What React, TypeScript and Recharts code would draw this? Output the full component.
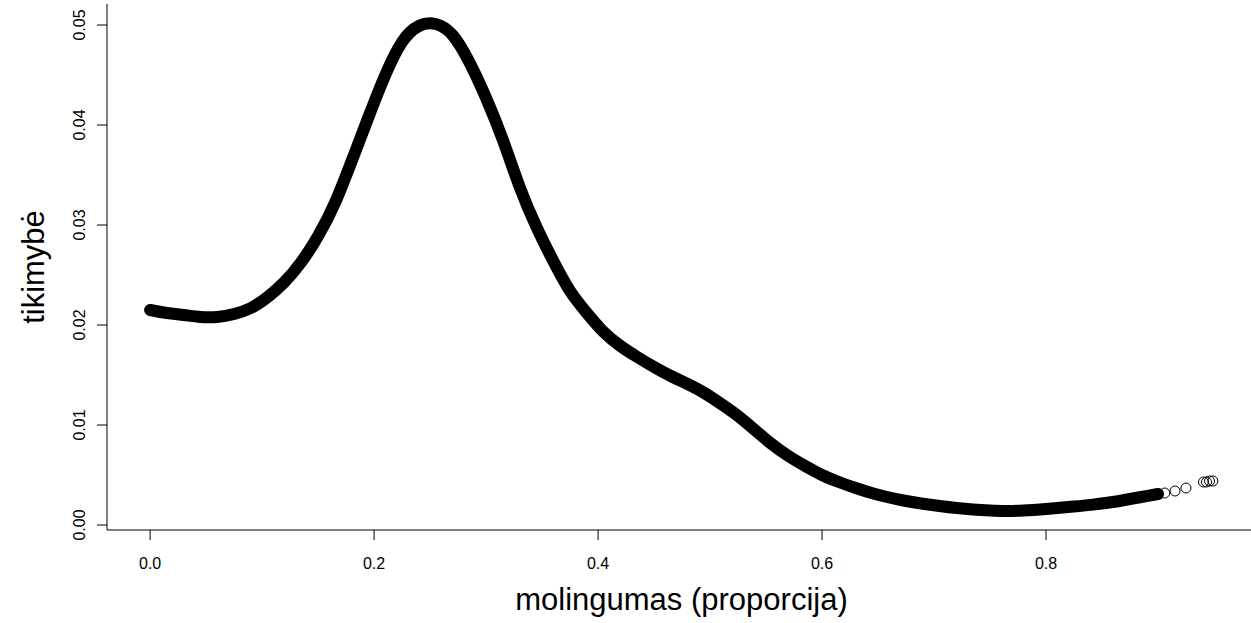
import React from "react";
import { ComposedChart, Line, Scatter, XAxis, YAxis } from "recharts";

// Kernel density of clay proportion: dense observations along the curve
const bandX = [
  0.0, 0.015, 0.03, 0.045, 0.06, 0.075, 0.09, 0.105, 0.12, 0.135, 0.15, 0.165,
  0.18, 0.195, 0.21, 0.225, 0.24, 0.255, 0.27, 0.285, 0.3, 0.315, 0.33, 0.345,
  0.36, 0.375, 0.39, 0.405, 0.42, 0.435, 0.45, 0.465, 0.48, 0.495, 0.51, 0.525,
  0.54, 0.555, 0.57, 0.585, 0.6, 0.615, 0.63, 0.645, 0.66, 0.675, 0.69, 0.705,
  0.72, 0.735, 0.75, 0.765, 0.78, 0.795, 0.81, 0.825, 0.84, 0.855, 0.87, 0.885,
  0.9,
];
const bandY = [
  0.0215, 0.0212, 0.021, 0.0208, 0.0208, 0.0211, 0.0217, 0.0228, 0.0243, 0.0263,
  0.0289, 0.0322, 0.0364, 0.0408, 0.045, 0.0483, 0.0499, 0.0501, 0.049, 0.0463,
  0.0427, 0.0385, 0.0338, 0.0298, 0.0264, 0.0234, 0.0212, 0.0193, 0.0179, 0.0168,
  0.0158, 0.0149, 0.0141, 0.0132, 0.0121, 0.0109, 0.0095, 0.0081, 0.0069, 0.0059,
  0.005, 0.0043, 0.0037, 0.00318, 0.00275, 0.0024, 0.00213, 0.0019, 0.0017,
  0.00155, 0.00145, 0.0014, 0.00145, 0.00155, 0.0017, 0.00185, 0.00201, 0.00222,
  0.0025, 0.0028, 0.0031,
];

// Sparse observations in the right tail
const tailX = [0.895, 0.9, 0.906, 0.9152, 0.925, 0.9406, 0.9433, 0.946, 0.949];
const tailY = [0.003, 0.0031, 0.0032, 0.0034, 0.0037, 0.0043, 0.0043, 0.0044, 0.0044];

const xTicks = [0, 0.2, 0.4, 0.6, 0.8];
const yTicks = [0, 0.01, 0.02, 0.03, 0.04, 0.05];

const xTitle = "molingumas (proporcija)";
const yTitle = "tikimybė";

const bandData = bandX.map((x, i) => ({ x, y: bandY[i] }));
const tailData = tailX.map((x, i) => ({ x, y: tailY[i] }));

const FONT = "'Liberation Sans', Arial, Helvetica, sans-serif";
const X_DOMAIN: [number, number] = [-0.0385, 0.9875];
const Y_DOMAIN: [number, number] = [-0.0005, 0.0521];

const XTick = (props: any) => {
  const { x, y, payload } = props;
  return (
    <text x={x} y={y} dy={29} textAnchor="middle" fontFamily={FONT} fontSize={16} fill="#000">
      {Number(payload.value).toFixed(1)}
    </text>
  );
};

const YTick = (props: any) => {
  const { x, y, payload } = props;
  return (
    <text
      transform={`translate(${x},${y}) rotate(-90)`}
      textAnchor="middle"
      fontFamily={FONT}
      fontSize={16}
      fill="#000"
    >
      {Number(payload.value).toFixed(2)}
    </text>
  );
};

const OpenCircle = (props: any) => (
  <circle cx={props.cx} cy={props.cy} r={5} fill="none" stroke="#000" strokeWidth={1} />
);

export default function App() {
  return (
    <div style={{ position: "absolute", left: 0, top: 0, width: 1251, height: 623, overflow: "hidden", background: "#fff" }}>
      <ComposedChart
        width={1262}
        height={623}
        data={bandData}
        margin={{ top: 4, right: 6, bottom: 0, left: 0 }}
      >
        <XAxis
          dataKey="x"
          type="number"
          domain={X_DOMAIN}
          allowDataOverflow
          ticks={xTicks}
          height={93}
          tickSize={10}
          tickMargin={0}
          tick={<XTick />}
          axisLine={{ stroke: "#000", strokeWidth: 1 }}
          tickLine={{ stroke: "#000", strokeWidth: 1 }}
          label={{
            content: (p: any) => {
              const vb = p.viewBox || { x: 107, y: 530, width: 1149, height: 93 };
              return (
                <text
                  x={vb.x + vb.width / 2}
                  y={610}
                  textAnchor="middle"
                  fontFamily={FONT}
                  fontSize={31}
                  fill="#000"
                >
                  {xTitle}
                </text>
              );
            },
          }}
        />
        <XAxis
          xAxisId="top"
          orientation="top"
          dataKey="x"
          type="number"
          domain={X_DOMAIN}
          allowDataOverflow
          height={0}
          tick={false}
          tickLine={false}
          axisLine={{ stroke: "#000", strokeWidth: 1 }}
        />
        <YAxis
          type="number"
          domain={Y_DOMAIN}
          allowDataOverflow
          ticks={yTicks}
          width={107}
          tickSize={10}
          tickMargin={12}
          tick={<YTick />}
          axisLine={{ stroke: "#000", strokeWidth: 1 }}
          tickLine={{ stroke: "#000", strokeWidth: 1 }}
          label={{
            content: (p: any) => {
              const vb = p.viewBox || { x: 0, y: 4, width: 107, height: 526 };
              const cy = vb.y + vb.height / 2;
              return (
                <text
                  transform={`translate(44,${cy}) rotate(-90)`}
                  textAnchor="middle"
                  fontFamily={FONT}
                  fontSize={31}
                  fill="#000"
                >
                  {yTitle}
                </text>
              );
            },
          }}
        />
        <Line
          dataKey="y"
          type="natural"
          stroke="#000"
          strokeWidth={12}
          strokeLinecap="round"
          strokeLinejoin="round"
          dot={false}
          activeDot={false}
          isAnimationActive={false}
        />
        <Scatter data={tailData} dataKey="y" shape={<OpenCircle />} isAnimationActive={false} />
      </ComposedChart>
    </div>
  );
}
